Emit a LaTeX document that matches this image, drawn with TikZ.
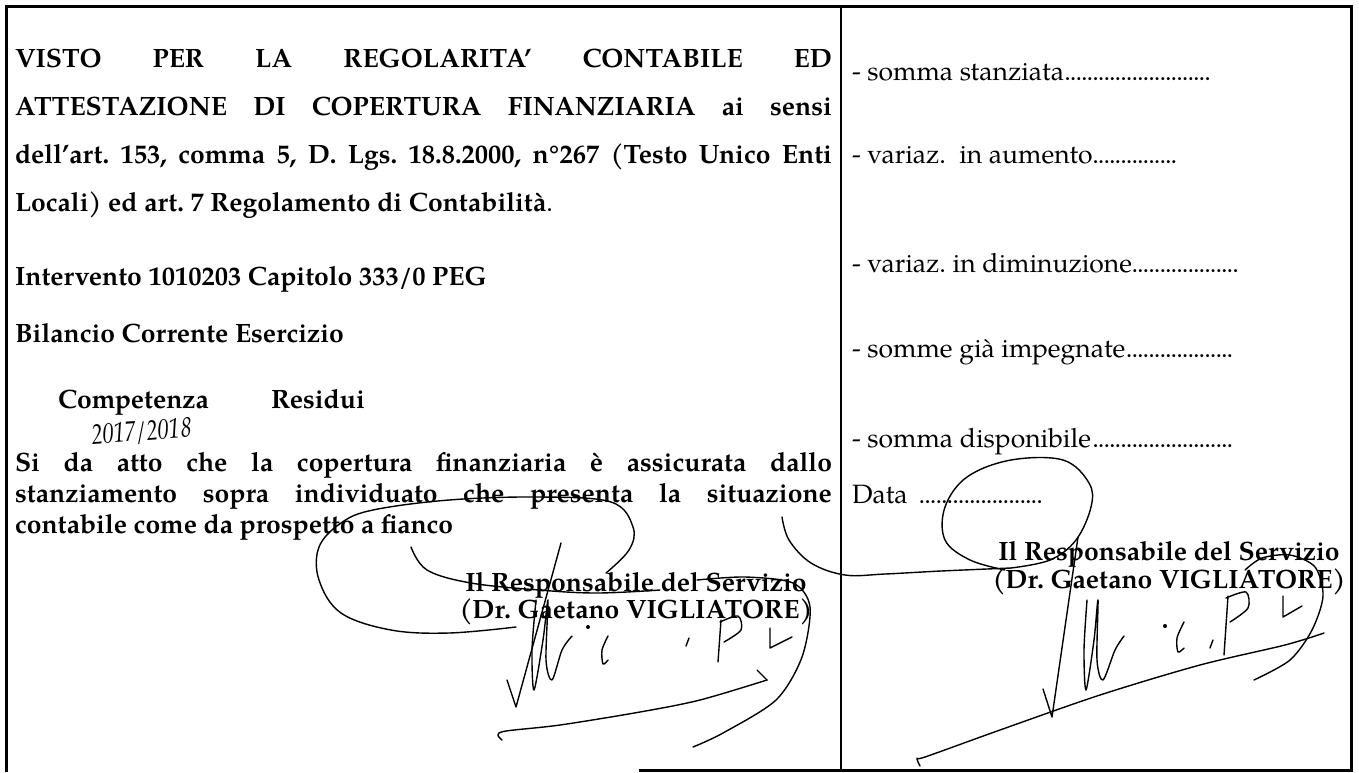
\documentclass[tikz,border=0pt]{standalone}
\usepackage{graphicx}
\usepackage{fontspec}
\setmainfont{texgyrepagella}[Extension=.otf,UprightFont=*-regular,BoldFont=*-bold,ItalicFont=*-italic,BoldItalicFont=*-bolditalic]
\newcommand\mydots{\leaders\hbox to 5.6pt{\hss.\hss}\hfill}
\frenchspacing
\begin{document}
\begin{tikzpicture}[x=1pt,y=-1pt]
\tikzset{
 txt/.style={inner sep=0pt, outer sep=0pt, anchor=base west, font=\fontsize{26.5}{30}\selectfont},
 btxt/.style={txt, font=\fontsize{26.5}{30}\selectfont\bfseries},
 ctr/.style={anchor=base},
 frame/.style={line width=3pt, line cap=rect},
 divline/.style={line width=1.6pt},
 sig/.style={line width=1.4pt, line cap=round, line join=round},
 hand/.style={inner sep=0pt, outer sep=0pt, anchor=base west, font=\fontsize{28}{28}\selectfont\itshape, rotate=4},
}
\fill[white] (0,0) rectangle (1359,772);
\useasboundingbox (0,0) rectangle (1359,772);
% frame
\coordinate (TL) at (6,6);
\coordinate (TR) at (1351,6);
\coordinate (BR) at (1351,770);
\coordinate (BL) at (6,770);
\coordinate (BM) at (640,770);
\coordinate (DT) at (841,6);
\coordinate (DB) at (841,770);
\draw[frame] (BL) -- (TL) -- (TR) -- (BR) -- (BM);
\draw[divline] (DT) -- (DB);
% left column
\node[btxt] (l1) at (15,67) {\makebox[817pt][s]{VISTO PER LA REGOLARITA’ CONTABILE ED}};
\node[btxt] (l2) at (15,115) {\makebox[817pt][s]{ATTESTAZIONE DI COPERTURA FINANZIARIA ai sensi}};
\node[btxt] (l3) at (15,163) {\makebox[817pt][s]{dell’art. 153, comma 5, D. Lgs. 18.8.2000, n°267 (Testo Unico Enti}};
\node[btxt] (l4) at (15,211) {Locali) ed art. 7 Regolamento di Contabilità\textmd{.}};
\node[btxt] (int) at (15,285) {Intervento 1010203 Capitolo 333/0 PEG};
\node[btxt] (bil) at (15,342) {Bilancio Corrente Esercizio};
\node[btxt] (comp) at (58,408) {Competenza};
\node[btxt] (res) at (271,408) {Residui};
\node[hand] (anno) at (92,444) {\scalebox{0.8}[1]{2017/2018}};
\node[btxt] (s1) at (15,471) {\makebox[817pt][s]{Si da atto che la copertura finanziaria è assicurata dallo}};
\node[btxt] (s2) at (15,502) {\makebox[817pt][s]{stanziamento sopra individuato che presenta la situazione}};
\node[btxt] (s3) at (15,533) {contabile come da prospetto a fianco};
\node[btxt, ctr] (lr1) at (636,591) {Il Responsabile del Servizio};
\node[btxt, ctr] (lr2) at (636,618) {(Dr. Gaetano VIGLIATORE)};
% right column
\node[txt] (r1) at (852,80) {\makebox[364pt][l]{- somma stanziata\mydots}};
\node[txt] (r2) at (852,163) {\makebox[328pt][l]{- variaz.\ \ in aumento\mydots}};
\node[txt] (r3) at (852,272) {\makebox[388pt][l]{- variaz. in diminuzione\mydots}};
\node[txt] (r4) at (852,357) {\makebox[383pt][l]{- somme già impegnate\mydots}};
\node[txt] (r5) at (852,447) {\makebox[385pt][l]{- somma disponibile\mydots}};
\node[txt] (r6) at (852,503) {\makebox[196pt][l]{Data \mydots}};
\node[btxt, ctr] (rr1) at (1169,560) {Il Responsabile del Servizio};
\node[btxt, ctr] (rr2) at (1169,588) {(Dr. Gaetano VIGLIATORE)};
% right signature
\draw[sig] plot[smooth, tension=0.6] coordinates {(1011,568) (1050,560) (1076,540) (1091,507) (1089,483) (1063,460) (1011,460) (967,477) (945,507) (945,540) (970,560) (1005,570)};
\draw[sig] plot[smooth, tension=0.6] coordinates {(1011,568) (941,571) (885,574) (845,575) (811,563) (789,540) (782,517)};
\draw[sig] (1078,537) -- (1052,717) -- (1043,689);
\draw[sig] plot[smooth, tension=0.5] coordinates {(1087,600) (1084,650) (1086,690) (1094,640) (1098,600) (1097,660) (1103,680) (1115,650) (1124,636)};
\fill (1165,626) circle (2);
\draw[sig] plot[smooth] coordinates {(1184,622) (1177,638) (1178,652) (1184,648)};
\draw[sig] (1213,640) -- (1210,648);
\draw[sig] (1228,596) -- (1224,655);
\draw[sig] plot[smooth] coordinates {(1226,598) (1246,592) (1248,608) (1230,622)};
\draw[sig] (1283,596) -- (1283,617) -- (1302,606);
\draw[sig] plot[smooth] coordinates {(1245,570) (1262,558) (1290,555) (1315,567) (1323,596) (1312,630) (1290,660) (1254,680)};
\draw[sig] plot[smooth] coordinates {(920,766) (917,758) (925,757) (1000,730) (1100,695) (1200,665) (1285,645) (1324,633)};
% left signature
\draw[sig] plot[smooth, tension=0.6] coordinates {(606,573) (629,550) (633,527) (611,502) (539,497) (449,500) (373,510) (341,523) (319,547) (319,580) (341,613) (391,630) (449,633) (516,627)};
\draw[sig] plot[smooth, tension=0.6] coordinates {(411,547) (427,570) (471,583) (539,590) (597,593) (660,590)};
\draw[sig] (561,543) -- (516,707) -- (507,680);
\draw[sig] plot[smooth, tension=0.5] coordinates {(536,600) (532,650) (534,690) (543,640) (548,600) (546,660) (552,680) (562,650) (572,636)};
\fill (588,627) circle (2);
\draw[sig] plot[smooth] coordinates {(608,636) (602,650) (603,664) (608,660)};
\draw[sig] (689,638) -- (686,646);
\draw[sig] (721,620) -- (718,662);
\draw[sig] plot[smooth] coordinates {(720,622) (738,616) (741,630) (724,642)};
\draw[sig] (770,628) -- (770,648) -- (792,637);
\draw[sig] plot[smooth] coordinates {(697,580) (745,577) (793,583) (810,607) (802,657) (776,700) (723,733) (693,747)};
\draw[sig] plot[smooth] coordinates {(502,740) (498,735) (506,731) (560,725) (640,712) (700,700) (767,680)};
\draw[sig] (757,670) -- (767,680);
\end{tikzpicture}
\end{document}
